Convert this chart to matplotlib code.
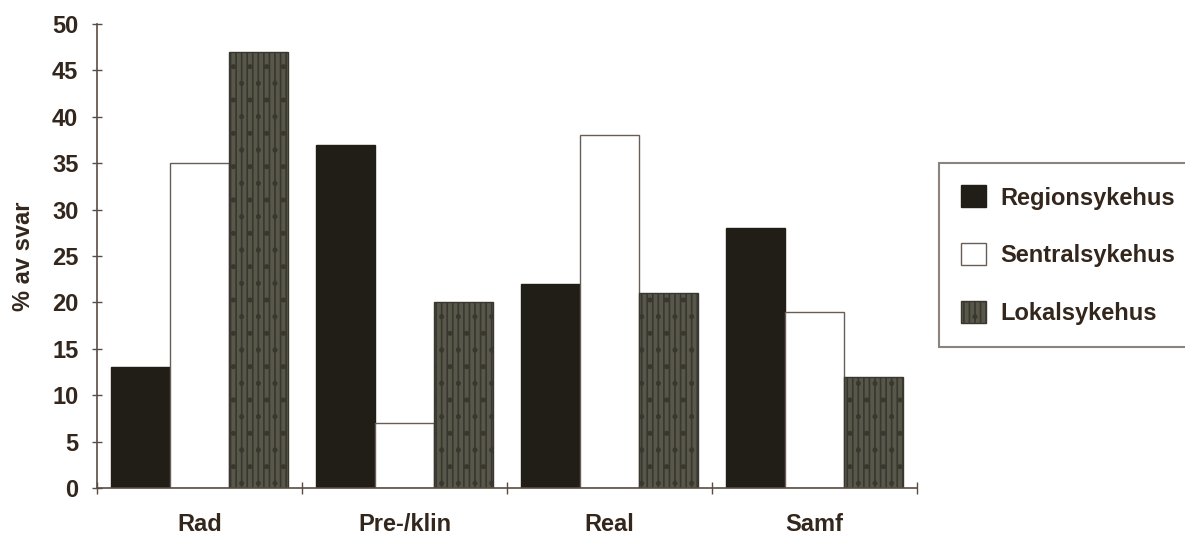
import numpy as np
import matplotlib
matplotlib.use("Agg")
import matplotlib.pyplot as plt
from matplotlib.patches import Patch

# andel svar per fagomraade og sykehustype
kategorier = ["Rad", "Pre-/klin", "Real", "Samf"]
regionsykehus = [13, 37, 22, 28]
sentralsykehus = [35, 7, 38, 19]
lokalsykehus = [47, 20, 21, 12]
serienavn = ["Regionsykehus", "Sentralsykehus", "Lokalsykehus"]
yticks = list(range(0, 51, 5))

plt.rcParams['font.family'] = ['Liberation Sans', 'DejaVu Sans']
plt.rcParams['hatch.color'] = "#a3a394"
plt.rcParams['hatch.linewidth'] = 1.2
tekst = "#33261c"
linje = "#5b4c43"
fs = 17

fig = plt.figure(figsize=(11.85, 5.38), dpi=100)
fig.patch.set_facecolor("white")
ax = fig.add_axes([0.0819, 0.0929, 0.6920, 0.8625])

stiler = [
    dict(facecolor="#211d17", edgecolor="#211d17", hatch=None),
    dict(facecolor="white", edgecolor="#6a5d55", hatch=None),
    dict(facecolor="#58584a", edgecolor="#3a3630", hatch="|||."),
]

x = np.arange(len(kategorier))
b = 0.288
serier = [regionsykehus, sentralsykehus, lokalsykehus]
for i, (verdier, stil) in enumerate(zip(serier, stiler)):
    ax.bar(x + (i - 1) * b, verdier, width=b, linewidth=1.0, **stil)

ax.set_xlim(-0.5, len(kategorier) - 0.5)
ax.set_ylim(0, 50)

# kategorietiketter midt i hver gruppe, tikkstreker mellom gruppene
ax.set_xticks(x)
ax.set_xticklabels(kategorier, fontsize=fs, fontweight="bold", color=tekst)
ax.tick_params(axis="x", which="major", length=0, pad=18)
ax.set_xticks(np.arange(len(kategorier) + 1) - 0.5, minor=True)
ax.tick_params(axis="x", which="minor", direction="inout", length=9,
               width=1.0, color=linje)

ax.set_yticks(yticks)
ax.set_yticklabels([str(v) for v in yticks], fontsize=fs, fontweight="bold", color=tekst)
ax.tick_params(axis="y", direction="inout", length=7, width=1.0, color=linje, pad=10)

ax.set_ylabel("% av svar", fontsize=fs, fontweight="bold", color=tekst, labelpad=12)

for s in ["top", "right"]:
    ax.spines[s].set_visible(False)
for s in ["left", "bottom"]:
    ax.spines[s].set_color(linje)
    ax.spines[s].set_linewidth(1.2)

handles = [Patch(linewidth=1.0, **stil) for stil in stiler]
leg = fig.legend(handles, serienavn, loc="upper left",
                 bbox_to_anchor=(0.792, 0.346, 0.25, 0.351), mode="expand",
                 fontsize=fs, frameon=True, fancybox=False,
                 handlelength=1.06, handleheight=1.06, handletextpad=0.6,
                 labelspacing=1.42, borderpad=0.95, borderaxespad=0)
leg.get_frame().set_edgecolor("#6f645d")
leg.get_frame().set_linewidth(1.5)
for t in leg.get_texts():
    t.set_fontweight("bold")
    t.set_color(tekst)

fig.savefig("out.png", dpi=100)
